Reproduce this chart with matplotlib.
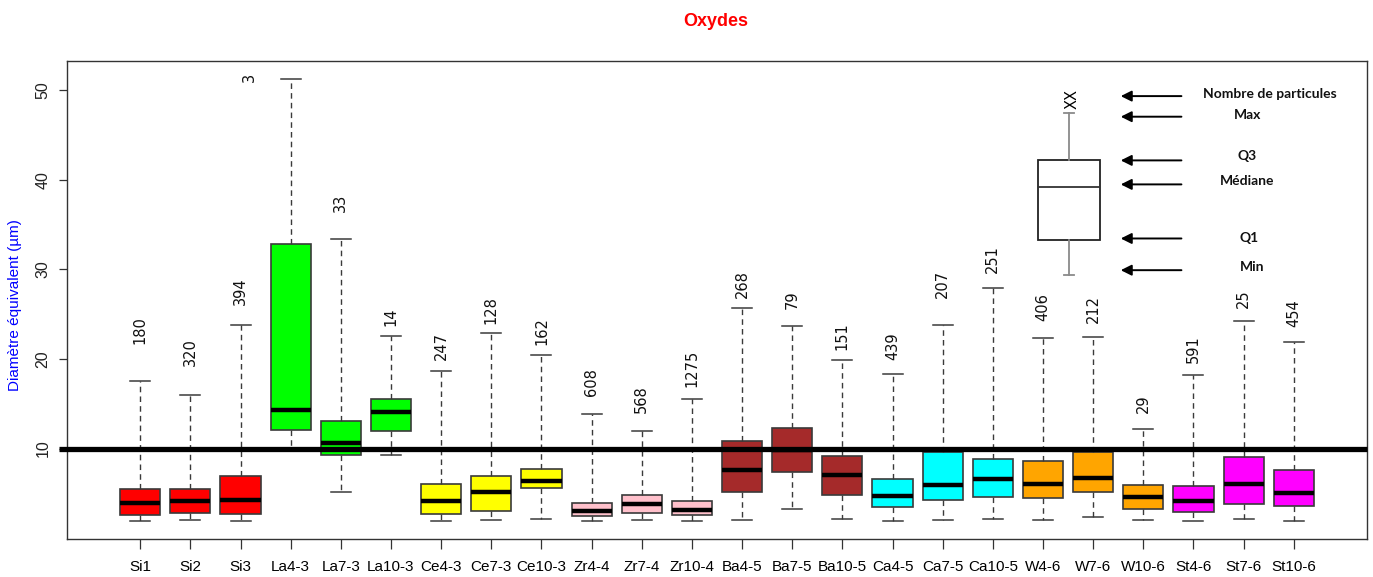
import matplotlib
matplotlib.use("Agg")
import matplotlib.pyplot as plt
from matplotlib import font_manager

# Equivalent diameter (µm) of oxide particles, one box per sample
samples = ["Si1", "Si2", "Si3", "La4-3", "La7-3", "La10-3", "Ce4-3", "Ce7-3",
           "Ce10-3", "Zr4-4", "Zr7-4", "Zr10-4", "Ba4-5", "Ba7-5", "Ba10-5",
           "Ca4-5", "Ca7-5", "Ca10-5", "W4-6", "W7-6", "W10-6", "St4-6",
           "St7-6", "St10-6"]
whis_lo = [1.88, 2.07, 1.88, 9.78, 5.16, 9.29, 1.88, 1.99, 2.15, 1.88, 1.99, 1.88,
           2.07, 3.30, 2.15, 1.88, 2.07, 2.18, 2.07, 2.37, 2.07, 1.88, 2.15, 1.88]
q1 = [2.63, 2.81, 2.74, 12.12, 9.26, 12.01, 2.74, 3.07, 5.61, 2.51, 2.81, 2.63,
      5.16, 7.39, 4.86, 3.44, 4.22, 4.60, 4.49, 5.16, 3.30, 2.93, 3.85, 3.63]
median = [3.93, 4.11, 4.22, 14.36, 10.63, 14.10, 4.11, 5.16, 6.35, 3.07, 3.82, 3.18,
          7.65, 9.89, 7.09, 4.67, 5.98, 6.61, 6.09, 6.72, 4.60, 4.11, 6.09, 5.05]
q3 = [5.53, 5.53, 6.91, 32.80, 13.13, 15.59, 6.05, 6.91, 7.77, 3.93, 4.86, 4.11,
      10.82, 12.31, 9.14, 6.61, 9.63, 8.85, 8.58, 9.63, 5.98, 5.87, 9.03, 7.65]
whis_hi = [17.60, 15.96, 23.85, 51.30, 33.35, 22.55, 18.64, 22.85, 20.50, 13.87, 12.01, 15.59,
           25.72, 23.67, 19.87, 18.38, 23.78, 27.95, 22.37, 22.48, 12.20, 18.16, 24.23, 21.88]
n_particles = [180, 320, 394, 3, 33, 14, 247, 128, 162, 608, 568, 1275,
               268, 79, 151, 439, 207, 251, 406, 212, 29, 591, 25, 454]
colors = ["red"] * 3 + ["#00ff00"] * 3 + ["yellow"] * 3 + ["pink"] * 3 + \
         ["brown"] * 3 + ["cyan"] * 3 + ["orange"] * 3 + ["magenta"] * 3

# where the particle counts are written (centre of the rotated text)
count_y = [23.2, 20.8, 27.6, 51.4, 37.4, 24.7, 21.5, 25.5, 23.1, 17.4, 15.5, 18.9,
           28.4, 26.6, 22.5, 21.4, 28.4, 31.2, 25.8, 25.6, 15.0, 21.1, 26.7, 25.1]
count_x = list(range(1, len(samples) + 1))
count_x[3] = 3.17   # no room above the La4-3 whisker

# schematic box used as the key
key_stats = dict(whislo=29.37, q1=33.3, med=39.2, q3=42.18, whishi=47.43)
key_labels = ["Nombre de particules", "Max", "Q3", "Médiane", "Q1", "Min"]
key_arrow_y = [49.36, 47.06, 42.18, 39.5, 33.46, 29.92]
key_text_y = [49.55, 47.2, 42.66, 39.83, 33.54, 30.3]
key_text_x = [23.53, 23.07, 23.07, 23.07, 23.1, 23.16]

installed = {f.name for f in font_manager.fontManager.ttflist}
narrow = "Liberation Sans Narrow" if "Liberation Sans Narrow" in installed else "Liberation Sans"
key_font = "Lato" if "Lato" in installed else "DejaVu Sans"

fig = plt.figure(figsize=(13.73, 5.77), dpi=100)
ax = fig.add_axes([67 / 1373, 38 / 577, 1300 / 1373, 478 / 577])

stats = [dict(whislo=a, q1=b, med=c, q3=d, whishi=e, fliers=[])
         for a, b, c, d, e in zip(whis_lo, q1, median, q3, whis_hi)]
edge = "#3a3a3a"
bp = ax.bxp(stats, positions=range(1, len(samples) + 1), widths=0.8,
            capwidths=0.4, patch_artist=True, showfliers=False,
            boxprops=dict(edgecolor=edge, linewidth=1.2),
            whiskerprops=dict(color=edge, linewidth=1.0, linestyle=(0, (4, 3))),
            capprops=dict(color=edge, linewidth=1.1),
            medianprops=dict(color="black", linewidth=3.2, solid_capstyle="butt"))
for box, c in zip(bp["boxes"], colors):
    box.set_facecolor(c)

for x, y, n in zip(count_x, count_y, n_particles):
    ax.text(x, y, str(n), rotation=90, ha="center", va="center",
            fontsize=10.5, family="DejaVu Sans", color="#111111")

# 10 µm reference line
ax.plot([-0.62, 25.46], [10, 10], color="black", lw=3.8, solid_capstyle="butt",
        clip_on=False, zorder=4)

# key: schematic box, count label and arrows
kb = ax.bxp([dict(key_stats, fliers=[])], positions=[19.52], widths=1.25,
            capwidths=0.2, patch_artist=True, showfliers=False,
            boxprops=dict(edgecolor="#222222", facecolor="white", linewidth=1.3),
            whiskerprops=dict(color="#8a8a8a", linewidth=1.3),
            capprops=dict(color="#8a8a8a", linewidth=1.3),
            medianprops=dict(color="#333333", linewidth=1.3))
ax.text(19.57, 49.07, "XX", rotation=90, ha="center", va="center",
        fontsize=10.5, family="DejaVu Sans")
for ya, yt, xt, lab in zip(key_arrow_y, key_text_y, key_text_x, key_labels):
    ax.annotate("", xy=(20.55, ya), xytext=(21.76, ya),
                arrowprops=dict(arrowstyle="-|>", color="black", lw=1.4,
                                mutation_scale=16, shrinkA=0, shrinkB=0))
    ax.text(xt, yt, lab, ha="center", va="center", fontsize=10,
            fontweight="bold", family=key_font, color="#111111")

ax.set_xlim(-0.46, 25.46)
ax.set_ylim(-0.1, 53.28)
ax.set_xticks(range(1, len(samples) + 1))
ax.set_xticklabels(samples, family=narrow, fontsize=11)
ax.set_yticks([10, 20, 30, 40, 50])
ax.set_yticklabels(["10", "20", "30", "40", "50"], rotation=90, va="center",
                   family="Liberation Sans", fontsize=11.5, color="#222222")
ax.tick_params(axis="x", length=7, width=0.9, color="#333333", pad=8)
ax.tick_params(axis="y", length=6, width=0.9, color="#333333", pad=6)
for sp in ax.spines.values():
    sp.set_color("#333333")
    sp.set_linewidth(1.0)

fig.text(716 / 1373, 1 - 21 / 577, "Oxydes", ha="center", va="center",
         color="red", fontsize=13, fontweight="bold", family=narrow)
fig.text(15 / 1373, 1 - 305 / 577, "Diamètre équivalent (µm)", rotation=90,
         ha="center", va="center", color="blue", fontsize=11,
         family="Liberation Sans")

fig.savefig("out.png", dpi=100)
